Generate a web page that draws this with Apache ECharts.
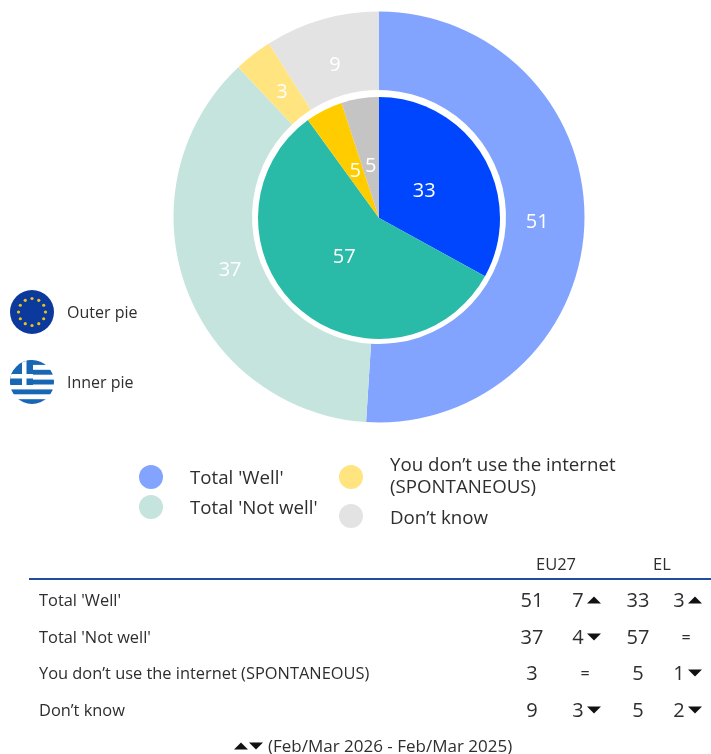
<!DOCTYPE html>
<html lang="en">
<head>
    <meta charset="UTF-8">
    <title>Internet use</title>
    <style>
        html, body { margin: 0; padding: 0; background: #fff; }
        #chart { width: 711px; height: 754px; }
    </style>
</head>
<body>
<div id="chart"></div>
<script src="https://cdn.jsdelivr.net/npm/echarts@6/dist/echarts.min.js"></script>
<script>
    // data
    var categories = ["Total 'Well'", "Total 'Not well'", "You don\u2019t use the internet (SPONTANEOUS)", "Don\u2019t know"];
    var outerValues = [51, 37, 3, 9];   // EU27
    var innerValues = [33, 57, 5, 5];   // EL
    var outerDelta = [7, 4, 0, 3];
    var innerDelta = [3, 0, 1, 2];
    var outerDir = ['up', 'down', 'same', 'down'];
    var innerDir = ['up', 'same', 'down', 'down'];
    var outerColors = ['#82a4ff', '#c5e4dd', '#ffe480', '#e3e3e3'];
    var innerColors = ['#0046ff', '#2abba8', '#ffcc00', '#c4c4c4'];

    var font = 'Open Sans';
    var textColor = '#2e2e2e';

    function slices(values, colors) {
        return values.map(function (v, i) {
            return {name: categories[i], value: v, itemStyle: {color: colors[i]}};
        });
    }

    // pull the label along the radius, pie only offers the mid ring position
    function radialShift(values, shift) {
        return function (params) {
            var before = 0;
            for (var i = 0; i < params.dataIndex; i++) before += values[i];
            var a = (before + values[params.dataIndex] / 2) / 100 * Math.PI * 2;
            return {dx: Math.sin(a) * shift, dy: -Math.cos(a) * shift};
        };
    }

    function text(x, y, str, size, align, color) {
        return {
            type: 'text', x: x, y: y,
            style: {
                text: str, fontFamily: font, fontSize: size, fill: color || textColor,
                align: align || 'left', verticalAlign: 'middle'
            }
        };
    }

    function dot(x, y, color) {
        return {type: 'circle', shape: {cx: x, cy: y, r: 12}, style: {fill: color}};
    }

    function arrow(x, y, up) {
        var pts = up ? [[-7, 3.5], [7, 3.5], [0, -3.5]] : [[-7, -3.5], [7, -3.5], [0, 3.5]];
        return {type: 'polygon', x: x, y: y, shape: {points: pts}, style: {fill: '#111111'}};
    }

    function euFlag() {
        var stars = '';
        for (var i = 0; i < 12; i++) {
            var a = i / 12 * Math.PI * 2;
            stars += '<circle cx="' + (22 + Math.sin(a) * 13.5) + '" cy="' + (22 - Math.cos(a) * 13.5) + '" r="1.6" fill="#f0c020"/>';
        }
        return '<svg xmlns="http://www.w3.org/2000/svg" width="44" height="44"><circle cx="22" cy="22" r="22" fill="#0b3a9c"/>' + stars + '</svg>';
    }

    function grFlag() {
        var stripes = '';
        for (var i = 0; i < 9; i += 2) stripes += '<rect x="0" y="' + (i * 4.9) + '" width="44" height="4.9" fill="#1767b5"/>';
        return '<svg xmlns="http://www.w3.org/2000/svg" width="44" height="44"><defs><clipPath id="c"><circle cx="22" cy="22" r="22"/></clipPath></defs>' +
            '<g clip-path="url(#c)"><rect width="44" height="44" fill="#fff"/>' + stripes +
            '<rect width="23" height="25" fill="#1767b5"/><rect x="12" width="4.5" height="25" fill="#fff"/><rect y="14" width="23" height="4.5" fill="#fff"/></g></svg>';
    }

    function flag(y, svg) {
        return {
            type: 'image', x: 10, y: y,
            style: {image: 'data:image/svg+xml;charset=utf-8,' + encodeURIComponent(svg), width: 44, height: 44}
        };
    }

    var elements = [
        flag(290, euFlag()),
        flag(360, grFlag()),
        text(67, 313, 'Outer pie', 16),
        text(67, 383, 'Inner pie', 16),

        // legend
        dot(151, 477, outerColors[0]),
        dot(151, 507, outerColors[1]),
        dot(351, 477, outerColors[2]),
        dot(351, 516, outerColors[3]),
        text(190, 479, categories[0], 18.7),
        text(190, 509, categories[1], 18.7),
        text(390, 466, 'You don\u2019t use the internet', 18.7),
        text(390, 488, '(SPONTANEOUS)', 18.7),
        text(390, 519, categories[3], 18.7),

        // table head
        text(556, 565, 'EU27', 16.5, 'center'),
        text(662, 565, 'EL', 16.5, 'center'),
        {type: 'line', shape: {x1: 29, y1: 579, x2: 711, y2: 579}, style: {stroke: '#1f4ea1', lineWidth: 2}},

        // footer
        arrow(241, 746, true),
        arrow(256, 746, false),
        text(268, 747, '(Feb/Mar 2026 - Feb/Mar 2025)', 17)
    ];

    var rowY = [601, 638, 674, 711];

    function deltaCell(y, x, value, dir) {
        if (dir === 'same') return [text(x + 7, y, '=', 16, 'center')];
        return [text(x, y, String(value), 20, 'center'), arrow(x + 16, y - 1, dir === 'up')];
    }

    categories.forEach(function (name, i) {
        var y = rowY[i];
        elements.push(text(39, y, name, 16.4));
        elements.push(text(532, y, String(outerValues[i]), 20, 'center'));
        elements.push(text(638, y, String(innerValues[i]), 20, 'center'));
        elements = elements.concat(deltaCell(y, 578, outerDelta[i], outerDir[i]));
        elements = elements.concat(deltaCell(y, 679, innerDelta[i], innerDir[i]));
    });

    var chart = echarts.init(document.getElementById('chart'), null, {renderer: 'canvas'});

    var labelStyle = {show: true, position: 'inside', color: '#fff', fontFamily: font, fontSize: 20, formatter: '{c}'};

    chart.setOption({
        animation: false,
        series: [
            {
                type: 'pie',
                center: [379, 217],
                radius: [127, 205.5],
                startAngle: 90,
                clockwise: true,
                silent: true,
                label: labelStyle,
                labelLine: {show: false},
                labelLayout: radialShift(outerValues, -11),
                data: slices(outerValues, outerColors)
            },
            {
                type: 'pie',
                center: [379, 218],
                radius: [0, 121],
                startAngle: 90,
                clockwise: true,
                silent: true,
                label: labelStyle,
                labelLine: {show: false},
                labelLayout: radialShift(innerValues, -11),
                data: slices(innerValues, innerColors)
            }
        ],
        graphic: {elements: elements}
    });
</script>
</body>
</html>
